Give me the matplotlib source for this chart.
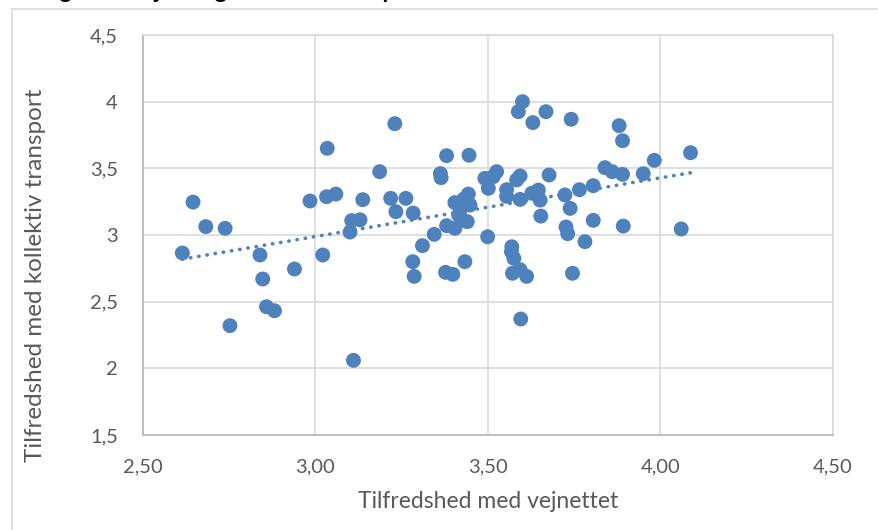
import numpy as np
import matplotlib.pyplot as plt
import matplotlib.patches as patches
from matplotlib.ticker import FuncFormatter

plt.rcParams['font.family'] = ['Lato', 'DejaVu Sans']

# Tilfredshed med vejnettet (x) vs. kollektiv transport (y)
vej = [2.614, 2.645, 2.682, 2.738, 2.752, 2.839, 2.847, 2.858, 2.881, 2.939,
       2.984, 3.021, 3.034, 3.032, 3.059, 3.100, 3.105, 3.129, 3.110, 3.137,
       3.186, 3.218, 3.230, 3.233, 3.262, 3.283, 3.282, 3.286, 3.310, 3.344,
       3.362, 3.364, 3.380, 3.377, 3.398, 3.380, 3.404, 3.404, 3.420, 3.425,
       3.433, 3.443, 3.448, 3.445, 3.440, 3.430, 3.415, 3.491, 3.501, 3.499,
       3.515, 3.525, 3.554, 3.554, 3.569, 3.568, 3.575, 3.571, 3.593, 3.612,
       3.595, 3.588, 3.600, 3.593, 3.583, 3.593, 3.627, 3.646, 3.651, 3.653,
       3.630, 3.668, 3.677, 3.723, 3.726, 3.731, 3.738, 3.741, 3.745, 3.765,
       3.781, 3.805, 3.805, 3.839, 3.860, 3.880, 3.890, 3.890, 3.892, 3.950,
       3.982, 4.060, 4.087]
koll = [2.865, 3.247, 3.063, 3.050, 2.320, 2.850, 2.670, 2.462, 2.432, 2.745,
        3.255, 2.850, 3.650, 3.287, 3.307, 3.022, 3.108, 3.114, 2.060, 3.265,
        3.475, 3.275, 3.835, 3.175, 3.275, 3.165, 2.800, 2.690, 2.920, 3.005,
        3.460, 3.430, 3.595, 2.720, 2.705, 3.070, 3.050, 3.243, 3.190, 3.110,
        2.800, 3.307, 3.225, 3.598, 3.100, 3.270, 3.150, 3.425, 3.350, 2.987,
        3.437, 3.475, 3.340, 3.290, 2.912, 2.875, 2.825, 2.713, 2.740, 2.690,
        2.370, 3.925, 4.000, 3.443, 3.413, 3.267, 3.313, 3.337, 3.262, 3.142,
        3.843, 3.925, 3.450, 3.300, 3.060, 3.010, 3.200, 3.868, 2.713, 3.340,
        2.950, 3.370, 3.110, 3.505, 3.475, 3.820, 3.707, 3.455, 3.067, 3.460,
        3.560, 3.045, 3.617]

xticks = [2.5, 3.0, 3.5, 4.0, 4.5]
yticks = [1.5, 2.0, 2.5, 3.0, 3.5, 4.0, 4.5]

blue = '#4f81bd'
grid = '#d9d9d9'
txt = '#595959'

fig = plt.figure(figsize=(8.79, 5.30), dpi=100)
ax = fig.add_axes([143/879, 95/530, 690/879, 400/530])

x = np.array(vej)
y = np.array(koll)
ax.scatter(x, y, s=115, color=blue, edgecolors='none', zorder=3)

# lineær tendenslinje
k, m = np.polyfit(x, y, 1)
xl = np.array([x.min(), x.max()])
ax.plot(xl, k * xl + m, color=blue, lw=2.6, linestyle=(0, (0.1, 2.2)),
        dash_capstyle='round', zorder=2)

ax.set_xlim(2.5, 4.5)
ax.set_ylim(1.5, 4.5)
ax.set_xticks(xticks)
ax.set_yticks(yticks)
ax.xaxis.set_major_formatter(FuncFormatter(lambda v, p: f'{v:.2f}'.replace('.', ',')))
ax.yaxis.set_major_formatter(FuncFormatter(lambda v, p: f'{v:g}'.replace('.', ',')))
ax.tick_params(length=0, labelsize=14.5, labelcolor=txt)
ax.tick_params(axis='x', pad=17)
ax.tick_params(axis='y', pad=18)
ax.grid(True, color=grid, lw=1.2, zorder=0)
ax.set_axisbelow(True)
for s in ['top', 'right']:
    ax.spines[s].set_color(grid)
    ax.spines[s].set_linewidth(1.2)
for s in ['left', 'bottom']:
    ax.spines[s].set_color('#bfbfbf')
    ax.spines[s].set_linewidth(1.5)

ax.set_xlabel('Tilfredshed med vejnettet', fontsize=16.5, color=txt, labelpad=11)
fig.text(36/879, 1 - 275/530, 'Tilfredshed med kollektiv transport', fontsize=17.5,
         color=txt, rotation=90, ha='center', va='center')

# ramme om diagrammet
fig.patches.append(patches.Rectangle((12/879, -0.05), 1.0, 1 - 8.5/530 + 0.05,
                                     transform=fig.transFigure, fill=False,
                                     edgecolor=grid, lw=1.2))
# overskrift, skåret af i toppen som i originalen
fig.text(40/879, 1 + 2/530, 'Figur 5: Vejnet og kollektiv transport',
         fontsize=17, fontweight='bold', color='black', ha='left', va='baseline')

fig.savefig('out.png', dpi=100)
